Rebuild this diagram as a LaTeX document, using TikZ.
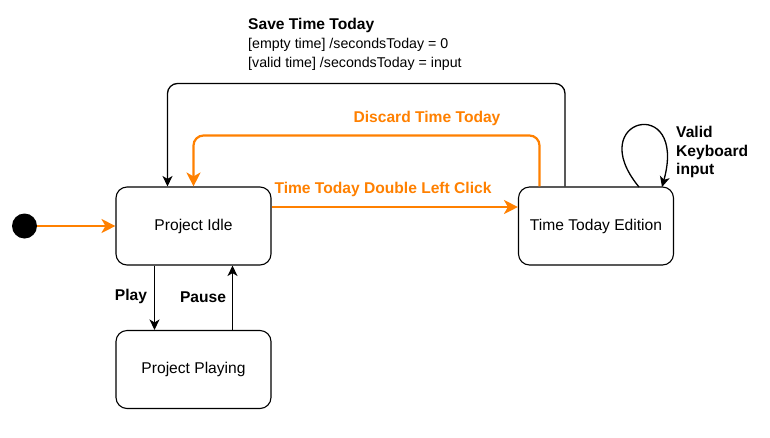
\documentclass[tikz,border=0pt]{standalone}
\usepackage{fontspec}
\setmainfont{Liberation Sans}
\usetikzlibrary{arrows.meta}
\definecolor{org}{HTML}{FF8000}
\begin{document}
\begin{tikzpicture}[x=1pt,y=-1pt,
  state/.style={draw,rounded corners=11pt,line width=1.1pt,minimum width=155pt,minimum height=78pt,inner sep=0pt,font=\fontsize{15.6}{18}\selectfont},
  tr/.style={line width=1.3pt,-{Stealth[length=10.5pt,width=10pt,inset=3pt]},rounded corners=10pt},
  otr/.style={line width=2.2pt,draw=org,-{Stealth[length=14pt,width=14pt,inset=4pt]},rounded corners=10pt},
  lbl/.style={font=\fontsize{15.6}{18}\selectfont\bfseries,inner sep=0pt},
  olbl/.style={lbl,text=org},
  sml/.style={font=\fontsize{14.2}{17}\selectfont,inner sep=0pt,anchor=west}]
\useasboundingbox (0,0) rectangle (770,437);
\node[state] (idle) at (193.5,226) {Project Idle};
\node[state] (play) at (193.5,369.5) {Project Playing};
\node[state] (edit) at (596,226) {Time Today Edition};
\node[circle,fill=black,minimum size=25pt,inner sep=0pt] (init) at (24.5,226) {};
\draw[otr] (init) -- (idle);
\draw[tr] (idle.south -| 154.5,0) -- (play.north -| 154.5,0);
\draw[tr] (play.north -| 232.5,0) -- (idle.south -| 232.5,0);
\node[lbl] (lplay) at (131,296) {Play};
\node[lbl] (lpause) at (203,297) {Pause};
\draw[otr] (idle.east |- 0,207) -- (edit.west |- 0,207);
\node[olbl] (ldbl) at (383,189) {Time Today Double Left Click};
\draw[otr] (edit.north -| 539.5,0) -- (539.5,135.5) -- (193.5,135.5) -- (idle.north -| 193.5,0);
\node[olbl] (ldis) at (427,118) {Discard Time Today};
\draw[tr] (edit.north -| 565,0) -- (565,83.5) -- (167.5,83.5) -- (idle.north -| 167.5,0);
\node[lbl,anchor=west] (lsave) at (248,25.5) {Save Time Today};
\node[sml] (l2) at (248,44.5) {[empty time] /secondsToday = 0};
\node[sml] (l3) at (248,63.5) {[valid time] /secondsToday = input};
\coordinate (ls) at (639,187);
\coordinate (le) at (662,187);
\draw[tr] (ls) .. controls (582,118) and (688,93) .. (le);
\node[lbl,anchor=west,align=left,font=\fontsize{15.6}{18.3}\selectfont\bfseries] (lkey) at (676,152) {Valid\\Keyboard\\input};
\end{tikzpicture}
\end{document}
